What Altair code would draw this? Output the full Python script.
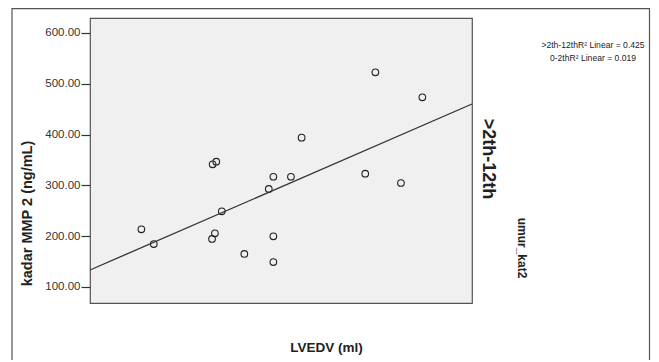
import altair as alt
import pandas as pd

# --- data ---
lvedv = [86.9, 93.4, 124.2, 126.1, 129.0, 125.4, 123.9, 140.8, 156.0,
         153.6, 165.2, 170.8, 156.0, 156.0, 209.4, 234.0, 204.1, 222.8]
mmp2 = [213.6, 184.6, 341.5, 346.7, 249.0, 205.7, 194.5, 165.0, 317.0,
        293.0, 317.0, 394.0, 199.8, 149.0, 522.6, 473.4, 323.0, 304.7]

fit_x = [60.0, 260.0]
fit_y = [133.5, 460.2]

y_ticks = [100, 200, 300, 400, 500, 600]

group_label = [">2th-12th"]
legend_title = ["umur_kat2"]
legend_line1 = [">2th-12thR\u00b2 Linear = 0.425"]
legend_line2 = ["0-2thR\u00b2 Linear = 0.019"]

x_title = "LVEDV (ml)"
y_title = "kadar MMP 2 (ng/mL)"

FONT = "Liberation Sans"
W, H = 382, 285

pts = pd.DataFrame({"LVEDV": lvedv, "MMP2": mmp2})
fit = pd.DataFrame({"LVEDV": fit_x, "MMP2": fit_y})

xs = alt.Scale(domain=[60, 260], nice=False, zero=False)
ys = alt.Scale(domain=[68.5, 629.5], nice=False, zero=False)

frame = alt.Chart(pd.DataFrame({"a": [0]})).mark_rect(
    fill=None, stroke="#555555", strokeWidth=1.2
).encode(
    x=alt.value(-78), x2=alt.value(559.5),
    y=alt.value(-9.4), y2=alt.value(420)
)

points = alt.Chart(pts).mark_point(
    shape="circle", filled=False, size=44, color="#222222", strokeWidth=1.1, opacity=1
).encode(
    x=alt.X("LVEDV:Q", scale=xs, axis=alt.Axis(
        title=x_title, labels=False, ticks=False, domain=False, grid=False,
        titleFont=FONT, titleFontSize=13.5, titleFontWeight="bold", titleColor="#222222",
        titleX=236, titleY=44, titleBaseline="middle", titleAlign="center")),
    y=alt.Y("MMP2:Q", scale=ys, axis=alt.Axis(
        title=y_title, values=y_ticks, format=".2f", grid=False, domain=False,
        tickSize=9, tickColor="#333333", tickWidth=1.2,
        labelFont=FONT, labelFontSize=11.5, labelColor="#333333", labelPadding=1,
        titleFont=FONT, titleFontSize=14.5, titleFontWeight="bold", titleColor="#222222",
        titleAngle=-90, titleX=-62.5, titleY=195, titleAlign="center", titleBaseline="middle")),
)

line = alt.Chart(fit).mark_line(color="#333333", strokeWidth=1.3).encode(
    x=alt.X("LVEDV:Q", scale=xs), y=alt.Y("MMP2:Q", scale=ys)
)


def label(texts, x, y, size, weight="normal", angle=0, font=FONT):
    kw = dict(font=font, fontSize=size, fontWeight=weight, color="#222222",
              align="center", baseline="middle")
    if angle:
        kw["angle"] = angle
    return alt.Chart(pd.DataFrame({"t": texts})).mark_text(**kw).encode(
        x=alt.value(x), y=alt.value(y), text="t:N")


grp = label(group_label, 397.5, 141, 18, "bold", 90)
leg_t = label(legend_title, 432, 230, 12, "bold", 90)
leg1 = label(legend_line1, 503, 27, 8.6)
leg2 = label(legend_line2, 503, 39.7, 8.6)

chart = alt.layer(frame, points, line, grp, leg_t, leg1, leg2).properties(
    width=W, height=H,
    padding={"left": 82, "top": 10, "right": 179, "bottom": 57},
    autosize=alt.AutoSizeParams(type="none"),
    background="white"
).configure_view(
    fill="#f0f0f0", stroke="#555555", strokeWidth=1.2
)

chart.save("out.html", embed_options={"renderer": "svg", "actions": False})
